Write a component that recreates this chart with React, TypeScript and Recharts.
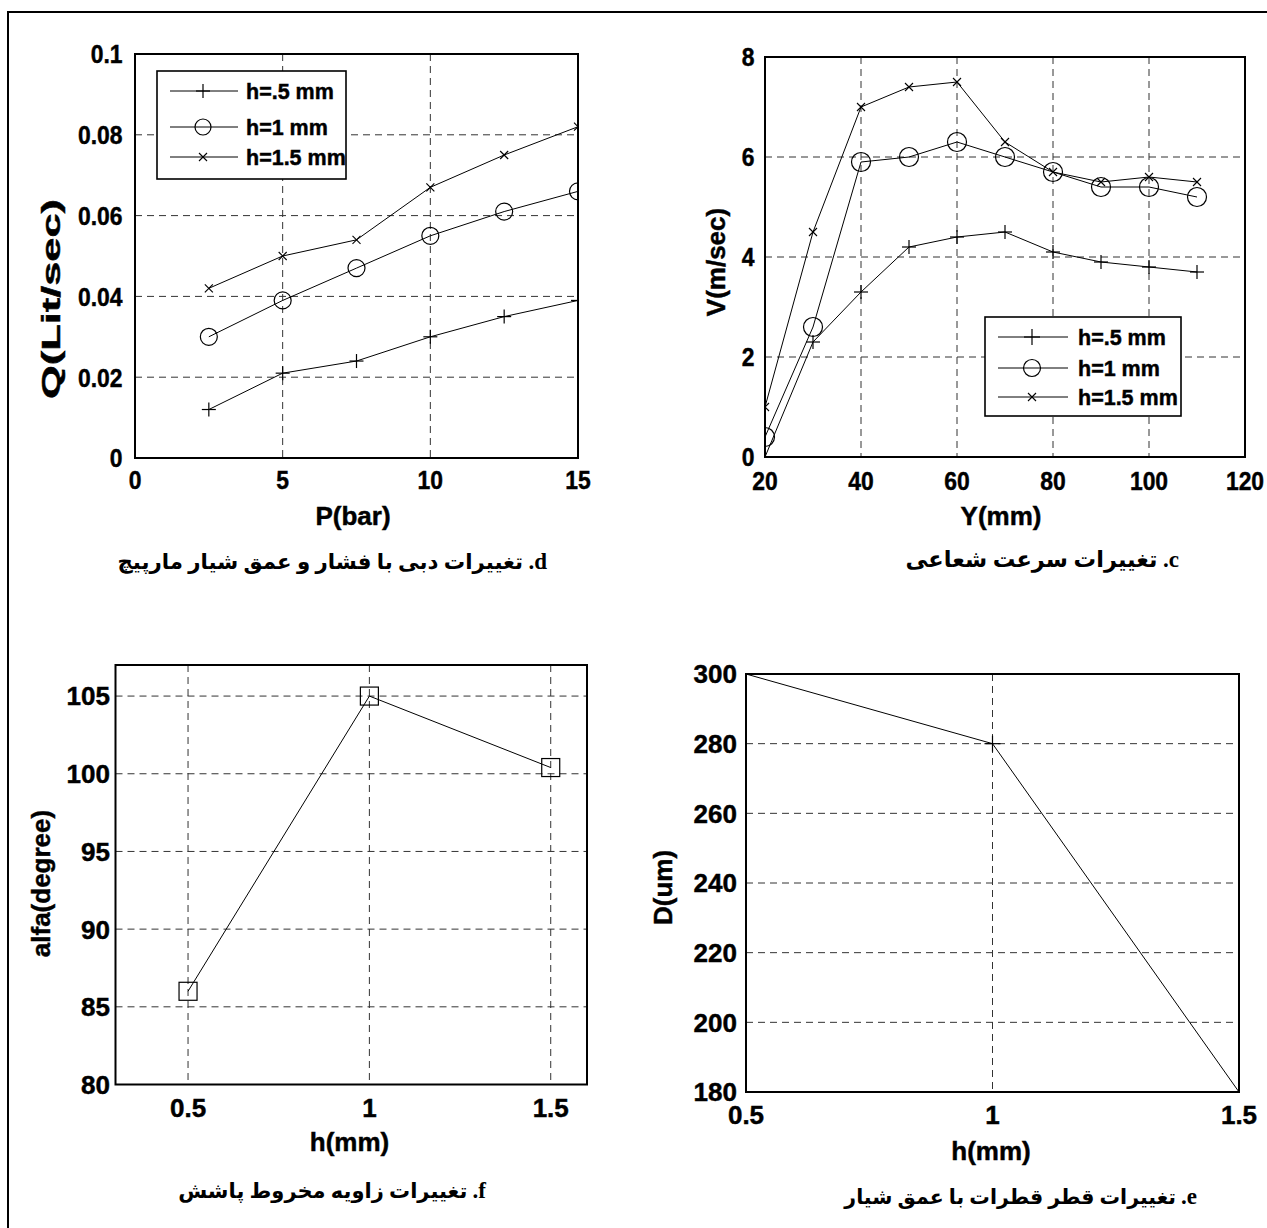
import React from 'react';
import {
  LineChart,
  Line,
  XAxis,
  YAxis,
  CartesianGrid,
  ReferenceArea,
  Legend,
  Label,
} from 'recharts';

// ---- Panel d: flow rate against pressure for three groove depths ----
const pressureBar = [2.5, 5, 7.5, 10, 12.5, 15];
const flowH05 = [0.012, 0.021, 0.024, 0.03, 0.035, 0.039];
const flowH10 = [0.03, 0.039, 0.047, 0.055, 0.061, 0.066];
const flowH15 = [0.042, 0.05, 0.054, 0.067, 0.075, 0.082];
const pressureTicks = [0, 5, 10, 15];
const flowTicks = [0, 0.02, 0.04, 0.06, 0.08, 0.1];

// ---- Panel c: radial velocity against distance ----
const distanceMm = [20, 30, 40, 50, 60, 70, 80, 90, 100, 110];
const velH05 = [0, 2.3, 3.3, 4.2, 4.4, 4.5, 4.1, 3.9, 3.8, 3.7];
const velH10 = [0.4, 2.6, 5.9, 6.0, 6.3, 6.0, 5.7, 5.4, 5.4, 5.2];
const velH15 = [1.0, 4.5, 7.0, 7.4, 7.5, 6.3, 5.7, 5.5, 5.6, 5.5];
const distanceTicks = [20, 40, 60, 80, 100, 120];
const velTicks = [0, 2, 4, 6, 8];

// ---- Panels f and e: spray cone angle and droplet diameter against depth ----
const depthMm = [0.5, 1, 1.5];
const coneAngleDeg = [86, 105, 100.4];
const dropDiameterUm = [300, 280, 180];
const depthTicks = [0.5, 1, 1.5];
const angleTicks = [80, 85, 90, 95, 100, 105];
const diameterTicks = [180, 200, 220, 240, 260, 280, 300];

const seriesNames = ['h=.5 mm', 'h=1 mm', 'h=1.5 mm'];

const PAGE_W = 1267;
const PAGE_H = 1228;
const SANS = "'Liberation Sans', Arial, Helvetica, sans-serif";
const TEXT_STROKE = 0.45;

type MarkProps = { cx: number; cy: number; r: number };

const PlusMark = ({ cx, cy, r }: MarkProps) => (
  <g>
    <line x1={cx - r} y1={cy} x2={cx + r} y2={cy} stroke="#000" strokeWidth={1.2} />
    <line x1={cx} y1={cy - r} x2={cx} y2={cy + r} stroke="#000" strokeWidth={1.2} />
  </g>
);
const CircleMark = ({ cx, cy, r }: MarkProps) => (
  <circle cx={cx} cy={cy} r={r} fill="none" stroke="#000" strokeWidth={1.2} />
);
const CrossMark = ({ cx, cy, r }: MarkProps) => (
  <g>
    <line x1={cx - r} y1={cy - r} x2={cx + r} y2={cy + r} stroke="#000" strokeWidth={1.1} />
    <line x1={cx - r} y1={cy + r} x2={cx + r} y2={cy - r} stroke="#000" strokeWidth={1.1} />
  </g>
);
const SquareMark = ({ cx, cy, r }: MarkProps) => (
  <rect x={cx - r} y={cy - r} width={2 * r} height={2 * r} fill="none" stroke="#000" strokeWidth={1.2} />
);

const MARKS = { plus: PlusMark, circle: CircleMark, cross: CrossMark, square: SquareMark };
type MarkKind = keyof typeof MARKS;

interface SeriesCfg {
  key: string;
  name: string;
  mark: MarkKind;
  size: number;
  legendSize?: number;
}

interface LegendCfg {
  x: number;
  y: number;
  w: number;
  h: number;
  rows: number[];
  lineX0: number;
  lineX1: number;
  markX: number;
  textX: number;
}

interface PanelCfg {
  id: string;
  box: { x: number; y: number; w: number; h: number };
  plot: { x0: number; x1: number; y0: number; y1: number };
  data: Array<Record<string, number>>;
  series: SeriesCfg[];
  xDomain: [number, number];
  yDomain: [number, number];
  xTicks: number[];
  yTicks: number[];
  xGrid: number[];
  yGrid: number[];
  tickScale: number;
  xTickOffset: number;
  yTickGap: number;
  xTitle: { text: string; x: number; y: number };
  yTitle: { text: string; x: number; y: number; length?: number };
  legend?: LegendCfg;
  caption: { letter: string; text: string; right: number; cy: number; size: number };
}

const zip3 = (xs: number[], a: number[], b: number[], c: number[]) =>
  xs.map((x, i) => ({ x, s0: a[i], s1: b[i], s2: c[i] }));

const panels: PanelCfg[] = [
  {
    id: 'd',
    box: { x: 0, y: 0, w: 633, h: 614 },
    plot: { x0: 135, x1: 578, y0: 54, y1: 458 },
    data: zip3(pressureBar, flowH05, flowH10, flowH15),
    series: [
      { key: 's0', name: seriesNames[0], mark: 'plus', size: 7, legendSize: 7 },
      { key: 's1', name: seriesNames[1], mark: 'circle', size: 8.5, legendSize: 8 },
      { key: 's2', name: seriesNames[2], mark: 'cross', size: 4, legendSize: 4 },
    ],
    xDomain: [0, 15],
    yDomain: [0, 0.1],
    xTicks: pressureTicks,
    yTicks: flowTicks,
    xGrid: [5, 10],
    yGrid: [0.02, 0.04, 0.06, 0.08],
    tickScale: 0.88,
    xTickOffset: 31.5,
    yTickGap: 12.5,
    xTitle: { text: 'P(bar)', x: 353, y: 525 },
    yTitle: { text: 'Q(Lit/sec)', x: 51, y: 299, length: 200 },
    legend: { x: 156, y: 70, w: 191, h: 110, rows: [21, 57, 87], lineX0: 14, lineX1: 82, markX: 47, textX: 90 },
    caption: { letter: 'd', text: 'تغییرات دبی با فشار و عمق شیار مارپیچ', right: 547, cy: 562, size: 21.3 },
  },
  {
    id: 'c',
    box: { x: 633, y: 0, w: 634, h: 614 },
    plot: { x0: 765, x1: 1245, y0: 57, y1: 457 },
    data: zip3(distanceMm, velH05, velH10, velH15),
    series: [
      { key: 's0', name: seriesNames[0], mark: 'plus', size: 7, legendSize: 8 },
      { key: 's1', name: seriesNames[1], mark: 'circle', size: 9.5, legendSize: 8.5 },
      { key: 's2', name: seriesNames[2], mark: 'cross', size: 4, legendSize: 4 },
    ],
    xDomain: [20, 120],
    yDomain: [0, 8],
    xTicks: distanceTicks,
    yTicks: velTicks,
    xGrid: [40, 60, 80, 100],
    yGrid: [2, 4, 6],
    tickScale: 0.88,
    xTickOffset: 33,
    yTickGap: 10.5,
    xTitle: { text: 'Y(mm)', x: 1001, y: 525 },
    yTitle: { text: 'V(m/sec)', x: 716, y: 262 },
    legend: { x: 984, y: 316, w: 198, h: 101, rows: [21, 52, 81], lineX0: 14, lineX1: 84, markX: 48, textX: 94 },
    caption: { letter: 'c', text: 'تغییرات سرعت شعاعی', right: 1179, cy: 560, size: 22.5 },
  },
  {
    id: 'f',
    box: { x: 0, y: 614, w: 633, h: 614 },
    plot: { x0: 115.5, x1: 587, y0: 665, y1: 1084.5 },
    data: depthMm.map((x, i) => ({ x, s0: coneAngleDeg[i] })),
    series: [{ key: 's0', name: 'alfa', mark: 'square', size: 9 }],
    xDomain: [0.3, 1.6],
    yDomain: [80, 107],
    xTicks: depthTicks,
    yTicks: angleTicks,
    xGrid: [0.5, 1, 1.5],
    yGrid: [85, 90, 95, 100, 105],
    tickScale: 1,
    xTickOffset: 32.5,
    yTickGap: 5.5,
    xTitle: { text: 'h(mm)', x: 349.5, y: 1151 },
    yTitle: { text: 'alfa(degree)', x: 41, y: 883.5 },
    caption: { letter: 'f', text: 'تغییرات زاویه مخروط پاشش', right: 486, cy: 1191, size: 21 },
  },
  {
    id: 'e',
    box: { x: 633, y: 614, w: 634, h: 614 },
    plot: { x0: 746, x1: 1239, y0: 674, y1: 1092 },
    data: depthMm.map((x, i) => ({ x, s0: dropDiameterUm[i] })),
    series: [{ key: 's0', name: 'D', mark: 'plus', size: 8 }],
    xDomain: [0.5, 1.5],
    yDomain: [180, 300],
    xTicks: depthTicks,
    yTicks: diameterTicks,
    xGrid: [1],
    yGrid: [200, 220, 240, 260, 280],
    tickScale: 1,
    xTickOffset: 32,
    yTickGap: 9,
    xTitle: { text: 'h(mm)', x: 991, y: 1160 },
    yTitle: { text: 'D(um)', x: 663, y: 887.5 },
    caption: { letter: 'e', text: 'تغییرات قطر قطرات با عمق شیار', right: 1197, cy: 1197, size: 20.5 },
  },
];

const fmt = (v: number) => String(v);

function LegendBox({ cfg, series }: { cfg: LegendCfg; series: SeriesCfg[] }) {
  return (
    <svg width={cfg.w} height={cfg.h} style={{ display: 'block' }}>
      <rect x={1} y={1} width={cfg.w - 2} height={cfg.h - 2} fill="#fff" stroke="#000" strokeWidth={1.6} />
      {series.map((s, i) => {
        const Mk = MARKS[s.mark];
        const y = cfg.rows[i];
        return (
          <g key={s.key}>
            <line x1={cfg.lineX0} y1={y} x2={cfg.lineX1} y2={y} stroke="#000" strokeWidth={1} />
            <Mk cx={cfg.markX} cy={y} r={s.legendSize ?? s.size} />
            <text
              x={cfg.textX}
              y={y + 8}
              fontFamily={SANS}
              fontWeight={700}
              fontSize={21.5}
              fill="#000"
              stroke="#000"
              strokeWidth={TEXT_STROKE}
            >
              {s.name}
            </text>
          </g>
        );
      })}
    </svg>
  );
}

function Panel({ cfg }: { cfg: PanelCfg }) {
  const { box, plot } = cfg;
  const left = plot.x0 - box.x;
  const right = box.w - (plot.x1 - box.x);
  const top = plot.y0 - box.y;
  const bottom = box.h - (plot.y1 - box.y);
  const s = cfg.tickScale;

  const xTick = (p: any) => (
    <g transform={`translate(${p.x},${p.y}) scale(${s},1)`}>
      <text
        x={0}
        y={cfg.xTickOffset}
        textAnchor="middle"
        fontFamily={SANS}
        fontWeight={700}
        fontSize={26}
        fill="#000"
        stroke="#000"
        strokeWidth={TEXT_STROKE}
      >
        {fmt(p.payload.value)}
      </text>
    </g>
  );
  const yTick = (p: any) => (
    <g transform={`translate(${p.x - cfg.yTickGap},${p.y}) scale(${s},1)`}>
      <text
        x={0}
        y={9.4}
        textAnchor="end"
        fontFamily={SANS}
        fontWeight={700}
        fontSize={26}
        fill="#000"
        stroke="#000"
        strokeWidth={TEXT_STROKE}
      >
        {fmt(p.payload.value)}
      </text>
    </g>
  );

  const xt = cfg.xTitle;
  const yt = cfg.yTitle;
  const ytx = yt.x - box.x;
  const yty = yt.y - box.y;

  return (
    <div style={{ position: 'absolute', left: box.x, top: box.y, width: box.w, height: box.h }}>
      <LineChart width={box.w} height={box.h} data={cfg.data} margin={{ top, right, bottom: 0, left: 0 }}>
        <CartesianGrid
          stroke="#333"
          strokeWidth={1}
          strokeDasharray="7 5"
          horizontalValues={cfg.yGrid}
          verticalValues={cfg.xGrid}
        />
        <XAxis
          type="number"
          dataKey="x"
          domain={cfg.xDomain}
          ticks={cfg.xTicks}
          interval={0}
          allowDataOverflow
          height={bottom}
          axisLine={false}
          tickLine={false}
          tickSize={0}
          tickMargin={0}
          tick={xTick}
        >
          <Label
            content={() => (
              <text
                x={xt.x - box.x}
                y={xt.y - box.y}
                textAnchor="middle"
                fontFamily={SANS}
                fontWeight={700}
                fontSize={26}
                fill="#000"
                stroke="#000"
                strokeWidth={TEXT_STROKE}
              >
                {xt.text}
              </text>
            )}
          />
        </XAxis>
        <YAxis
          type="number"
          domain={cfg.yDomain}
          ticks={cfg.yTicks}
          interval={0}
          allowDataOverflow
          width={left}
          axisLine={false}
          tickLine={false}
          tickSize={0}
          tickMargin={0}
          tick={yTick}
        >
          <Label
            content={() => (
              <text
                x={ytx}
                y={yty}
                transform={`rotate(-90 ${ytx} ${yty})`}
                textAnchor="middle"
                dominantBaseline="central"
                fontFamily={SANS}
                fontWeight={700}
                fontSize={26}
                fill="#000"
                stroke="#000"
                strokeWidth={TEXT_STROKE}
                {...(yt.length ? { textLength: yt.length, lengthAdjust: 'spacingAndGlyphs' } : {})}
              >
                {yt.text}
              </text>
            )}
          />
        </YAxis>
        <ReferenceArea
          x1={cfg.xDomain[0]}
          x2={cfg.xDomain[1]}
          y1={cfg.yDomain[0]}
          y2={cfg.yDomain[1]}
          fill="none"
          stroke="#000"
          strokeWidth={2}
          ifOverflow="visible"
        />
        {cfg.series.map((ser) => {
          const Mk = MARKS[ser.mark];
          return (
            <Line
              key={ser.key}
              type="linear"
              dataKey={ser.key}
              name={ser.name}
              stroke="#000"
              strokeWidth={1}
              isAnimationActive={false}
              dot={(p: any) => <Mk key={`${ser.key}-${p.index}`} cx={p.cx} cy={p.cy} r={ser.size} />}
              activeDot={false}
            />
          );
        })}
        {cfg.legend && (
          <Legend
            layout="vertical"
            align="center"
            verticalAlign="middle"
            wrapperStyle={{
              left: cfg.legend.x - box.x,
              top: cfg.legend.y - box.y,
              width: cfg.legend.w,
              height: cfg.legend.h,
            }}
            content={() => <LegendBox cfg={cfg.legend as LegendCfg} series={cfg.series} />}
          />
        )}
      </LineChart>
    </div>
  );
}

function Caption({ cap }: { cap: PanelCfg['caption'] }) {
  return (
    <div
      dir="rtl"
      style={{
        position: 'absolute',
        right: PAGE_W - cap.right,
        top: cap.cy - 15,
        fontSize: cap.size,
        lineHeight: '30px',
        fontWeight: 700,
        whiteSpace: 'nowrap',
        color: '#000',
        fontFamily: "'Liberation Serif', 'DejaVu Sans', serif",
      }}
    >
      <span style={{ fontSize: 23 }}>{cap.letter}.</span> {cap.text}
    </div>
  );
}

export default function App() {
  return (
    <div
      style={{
        position: 'relative',
        width: PAGE_W,
        height: PAGE_H,
        background: '#fff',
        overflow: 'hidden',
      }}
    >
      <style>{'body{margin:0;background:#fff;}'}</style>
      <div
        style={{
          position: 'absolute',
          left: 7,
          top: 11,
          right: -4,
          bottom: -4,
          borderTop: '2px solid #000',
          borderLeft: '2px solid #000',
        }}
      />
      {panels.map((p) => (
        <Panel key={p.id} cfg={p} />
      ))}
      {panels.map((p) => (
        <Caption key={`cap-${p.id}`} cap={p.caption} />
      ))}
    </div>
  );
}
